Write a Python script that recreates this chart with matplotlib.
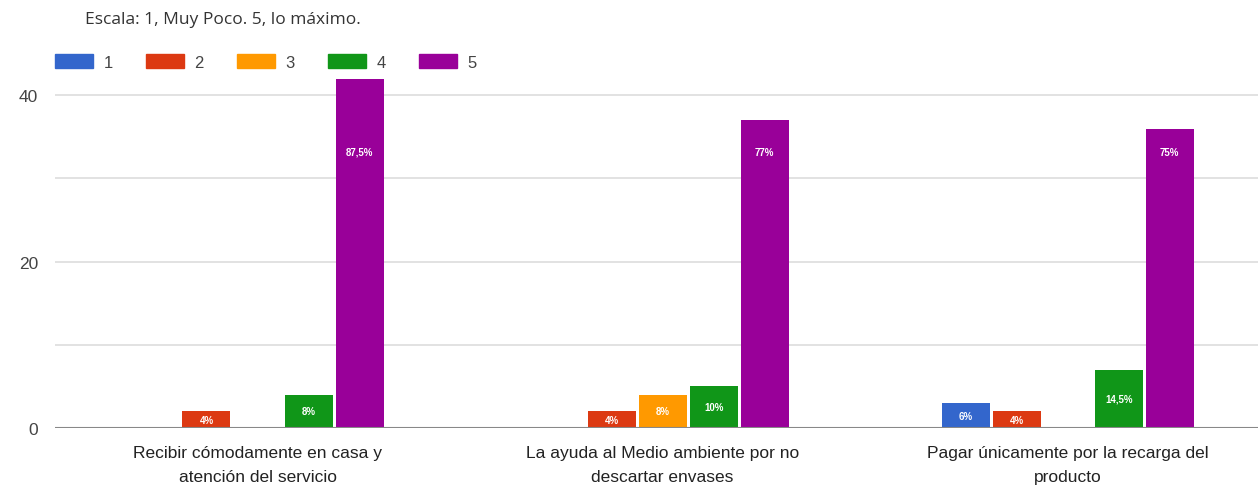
import numpy as np
import matplotlib
matplotlib.use('Agg')
import matplotlib.pyplot as plt
from matplotlib.patches import Patch

categorias = ["Recibir cómodamente en casa y\natención del servicio",
              "La ayuda al Medio ambiente por no\ndescartar envases",
              "Pagar únicamente por la recarga del\nproducto"]
series = ["1", "2", "3", "4", "5"]
valores = {
    "1": [0, 0, 3],
    "2": [2, 2, 2],
    "3": [0, 4, 0],
    "4": [4, 5, 7],
    "5": [42, 37, 36],
}
etiquetas = {
    "1": ["", "", "6%"],
    "2": ["4%", "4%", "4%"],
    "3": ["", "8%", ""],
    "4": ["8%", "10%", "14,5%"],
    "5": ["87,5%", "77%", "75%"],
}
colores = ["#3366cc", "#dc3912", "#ff9900", "#109618", "#990099"]

plt.rcParams['font.family'] = ['Liberation Sans', 'DejaVu Sans']

fig = plt.figure(figsize=(12.58, 5.02), dpi=100)
ax = fig.add_axes([55 / 1258, 73 / 502, 1 - 55 / 1258, 366 / 502])

x = np.arange(len(categorias))
paso = 0.126
ancho = 0.1185
for i, s in enumerate(series):
    pos = x + (i - 2) * paso
    ax.bar(pos, valores[s], ancho, color=colores[i], zorder=3)
    for p, v, t in zip(pos, valores[s], etiquetas[s]):
        if not t:
            continue
        y = v / 2 if v < 10 else 33.2
        ax.text(p, y, t, color="white", fontsize=7, fontweight="bold",
                ha="center", va="center", zorder=4)

ax.set_xlim(-0.5, 2.47)
ax.set_ylim(0, 44)
ax.set_yticks([0, 20, 40])
ax.set_yticks([10, 30], minor=True)
ax.grid(axis="y", which="both", color="#dddddd", linewidth=1.2, zorder=0)
ax.axhline(0, color="#888888", linewidth=1.5, zorder=4)
ax.set_xticks(x)
ax.set_xticklabels(categorias, fontsize=12.5, color="#222222", linespacing=1.75)
ax.tick_params(axis="both", which="both", length=0)
ax.tick_params(axis="y", labelsize=12.5, labelcolor="#444444", pad=12)
ax.tick_params(axis="x", pad=12)
for sp in ax.spines.values():
    sp.set_visible(False)

fig.text(85 / 1258, 1 - 20 / 502, "Escala: 1, Muy Poco. 5, lo máximo.",
         fontsize=12.5, color="#333333", va="center", family="Open Sans")

handles = [Patch(color=c) for c in colores]
fig.legend(handles, series, loc="center left", bbox_to_anchor=(40 / 1258, 1 - 63 / 502),
           ncol=5, frameon=False, fontsize=12, handlelength=2.3, handleheight=0.9,
           columnspacing=2.0, handletextpad=0.6, labelcolor="#444444")

fig.savefig("out.png", dpi=100)
